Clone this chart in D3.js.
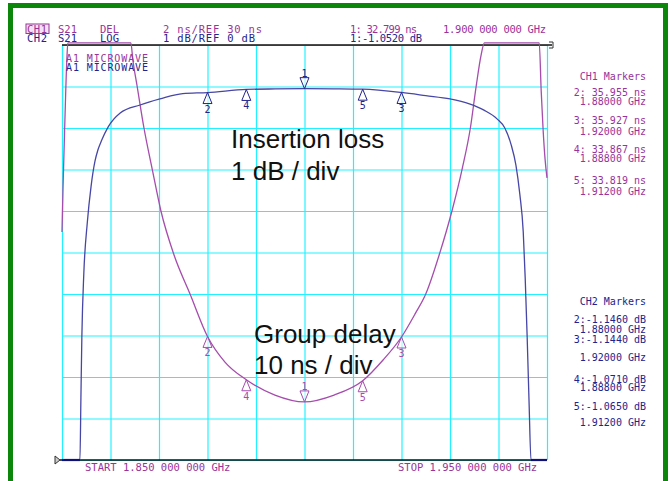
<!DOCTYPE html>
<html><head><meta charset="utf-8">
<script src="https://cdn.jsdelivr.net/npm/d3@7"></script>
<style>
html,body{margin:0;padding:0;background:#fff;}
svg{display:block;}
.px{font-family:"DejaVu Sans Mono",monospace;}
.big{font-family:"Liberation Sans",Arial,sans-serif;font-size:26px;fill:#111;}
</style></head>
<body>
<svg id="c" width="669" height="481"></svg>
<script>
// ---------- DATA ----------
// Insertion loss (CH2, S21 LOG), frequency in GHz, value in dB
const freqIL = [1.8500,1.8537,1.8539,1.8541,1.8545,1.8552,1.8560,1.8568,1.8574,1.8582,1.8595,1.8620,1.8661,1.8702,1.8749,1.8800,1.8880,1.8940,1.9000,1.9060,1.9120,1.9200,1.9250,1.9300,1.9340,1.9370,1.9397,1.9413,1.9426,1.9436,1.9444,1.9451,1.9455,1.9459,1.9463,1.9467,1.9500];
const lossDB = [-10,-10,-8.5,-7.0,-5.5,-4.3,-3.4,-2.8,-2.53,-2.29,-1.98,-1.64,-1.446,-1.30,-1.17,-1.146,-1.071,-1.058,-1.052,-1.056,-1.065,-1.144,-1.22,-1.30,-1.42,-1.57,-1.78,-2.0,-2.4,-2.9,-3.6,-4.5,-5.6,-7.0,-8.6,-10,-10];
// Group delay (CH1, S21 DEL), frequency in GHz, value in ns
const freqGD = [1.8500,1.8502,1.8506,1.8510,1.8512,1.8578,1.8642,1.8646,1.8655,1.8669,1.8686,1.8704,1.8731,1.8764,1.8800,1.8836,1.8880,1.8939,1.9000,1.9061,1.9120,1.9162,1.9200,1.9228,1.9250,1.9279,1.9304,1.9325,1.9342,1.9354,1.9364,1.9371,1.9440,1.9484,1.9488,1.9492,1.9496,1.9500];
const delayNS = [40.99,43.0,46.4,49.3,52,55,51,49.3,48.0,46.0,44.02,42.0,39.88,38.0,35.955,34.72,33.867,33.13,32.799,33.13,33.819,34.82,35.927,37.04,38.0,39.98,42.0,44.02,46.0,48.02,49.5,52,55,51,47.8,45.9,44.5,43.6];
// Markers
const markerNum  = [1,2,3,4,5];
const markerFreq = [1.900,1.880,1.920,1.888,1.912];
const markerIL   = [-1.0520,-1.1460,-1.1440,-1.0710,-1.0650];
const markerGD   = [32.799,35.955,35.927,33.867,33.819];
// Axis settings
const freqTicks = d3.range(0,11).map(i => 1.85 + i*0.01);
const ilTicks = d3.range(0,11).map(i => -i);
const header1 = ["CH1","S21","DEL","2 ns/REF 30 ns","1: 32.799 ns","1.900 000 000 GHz"];
const header2 = ["CH2","S21","LOG","1 dB/REF 0 dB","1:-1.0520 dB"];
const startLabel = "START 1.850 000 000 GHz";
const stopLabel = "STOP 1.950 000 000 GHz";

// ---------- DRAW ----------
const PURPLE = "#a54cad", PTEXT = "#993399", BLUE = "#4646a6", BTEXT = "#23238c", CYAN = "#22f2ff";
const svg = d3.select("#c");
const L = 62, R = 547, T = 45, B = 460;
const x = d3.scaleLinear().domain([1.85,1.95]).range([L,R]);
const yIL = d3.scaleLinear().domain([-10,0]).range([B,T]);
const yGD = d3.scaleLinear().domain([30,50]).range([B,T]);

// green frame
svg.append("path").attr("d","M10.5,481 L10.5,5.5 L665.5,5.5 L665.5,481")
  .attr("fill","none").attr("stroke","#0b860b").attr("stroke-width",5);

// grid via axes
const gx = svg.append("g").attr("transform",`translate(0,${B})`)
  .call(d3.axisBottom(x).tickValues(freqTicks).tickSize(-(B-T)).tickFormat(""));
const gy = svg.append("g").attr("transform",`translate(${L},0)`)
  .call(d3.axisLeft(yIL).tickValues(ilTicks).tickSize(-(R-L)).tickFormat(""));
[gx,gy].forEach(g=>{g.select(".domain").remove(); g.selectAll("line").attr("stroke",CYAN).attr("stroke-width",1.2);});
// top and bottom black lines
svg.append("line").attr("x1",L).attr("x2",R+5).attr("y1",T).attr("y2",T).attr("stroke","#111").attr("stroke-width",1.3);
svg.append("line").attr("x1",L-2).attr("x2",R).attr("y1",B).attr("y2",B).attr("stroke","#111").attr("stroke-width",1.3);
// reference pointers
svg.append("path").attr("d",`M${L-7},${B-4} L${L-2},${B} L${L-7},${B+4} Z`).attr("fill","#ccc").attr("stroke","#333").attr("stroke-width",1);
svg.append("path").attr("d",`M${R+2},${T-3} L${R+6},${T-3} L${R+6},${T+3} L${R+2},${T+3}`).attr("fill","none").attr("stroke","#333").attr("stroke-width",1);

// traces
const ilData = freqIL.map((f,i)=>({f, v:lossDB[i]}));
const gdData = freqGD.map((f,i)=>({f, v:delayNS[i]}));
const lineIL = d3.line().x(d=>x(d.f)).y(d=>yIL(Math.max(-10, d.v))).curve(d3.curveMonotoneX);
const lineGD = d3.line().x(d=>x(d.f)).y(d=>yGD(Math.min(50.1, d.v))).curve(d3.curveMonotoneX);
svg.append("path").attr("d",lineGD(gdData)).attr("fill","none").attr("stroke",PURPLE).attr("stroke-width",1.3);
svg.append("path").attr("d",lineIL(ilData)).attr("fill","none").attr("stroke",BLUE).attr("stroke-width",1.3);
// clipped floor of insertion loss, darker
const floorSegs = [[ilData[0],ilData[1]],[ilData[ilData.length-2],ilData[ilData.length-1]]];
floorSegs.forEach(s=>svg.append("path").attr("d",d3.line().x(d=>x(d.f)).y(d=>yIL(d.v))(s)).attr("stroke","#10107a").attr("stroke-width",2.2));

// markers
function drawMarkers(vals, yS, color){
  markerNum.forEach((n,i)=>{
    const mx = x(markerFreq[i]), my = yS(vals[i]);
    if(n===1){
      svg.append("path").attr("d",`M${mx},${my} L${mx-4.5},${my-11} L${mx+4.5},${my-11} Z`).attr("fill","#fff").attr("fill-opacity",0.6).attr("stroke",color).attr("stroke-width",1);
      svg.append("text").attr("class","px").attr("x",mx).attr("y",my-12).attr("text-anchor","middle").attr("font-size",10).attr("fill",color).text(n);
    } else {
      svg.append("path").attr("d",`M${mx},${my} L${mx-4.5},${my+11} L${mx+4.5},${my+11} Z`).attr("fill","#fff").attr("fill-opacity",0.6).attr("stroke",color).attr("stroke-width",1);
      svg.append("text").attr("class","px").attr("x",mx).attr("y",my+20).attr("text-anchor","middle").attr("font-size",10).attr("fill",color).text(n);
    }
  });
}
drawMarkers(markerIL, yIL, BTEXT);
drawMarkers(markerGD, yGD, PURPLE);

// header text
svg.append("rect").attr("x",26).attr("y",24).attr("width",23).attr("height",9.5).attr("fill","#f3e2f3").attr("stroke",PTEXT).attr("stroke-width",1);
const hx1 = [27,58,100,163,350,443];
const hw1 = [20,19,19,99,67,103];
const hx2 = [27,58,100,163,350];
const hw2 = [20,19,19,92,72];
header1.forEach((t,i)=>svg.append("text").attr("class","px").attr("x",hx1[i]).attr("y",32.5).attr("font-size",10.5).attr("textLength",hw1[i]).attr("lengthAdjust","spacing").attr("fill",PTEXT).text(t));
header2.forEach((t,i)=>svg.append("text").attr("class","px").attr("x",hx2[i]).attr("y",41.5).attr("font-size",10.5).attr("textLength",hw2[i]).attr("lengthAdjust","spacing").attr("fill",BTEXT).text(t));
svg.append("text").attr("class","px").attr("x",66).attr("y",62).attr("font-size",10).attr("textLength",82).attr("lengthAdjust","spacing").attr("fill",PTEXT).text("A1 MICROWAVE");
svg.append("text").attr("class","px").attr("x",66).attr("y",70.5).attr("font-size",10).attr("textLength",82).attr("lengthAdjust","spacing").attr("fill",BTEXT).text("A1 MICROWAVE");

// right marker panels
const fmtF = f => f.toFixed(5) + " GHz";
const FS = 10;
svg.append("text").attr("class","px").attr("x",646).attr("y",80).attr("text-anchor","end").attr("font-size",FS).attr("fill",PTEXT).text("CH1 Markers");
const ch1Y = [[96,105],[124,135],[153,162],[184,195]];
markerNum.slice(1).forEach((n,j)=>{
  const i = j+1;
  svg.append("text").attr("class","px").attr("x",646).attr("y",ch1Y[j][0]).attr("text-anchor","end").attr("font-size",FS).attr("fill",PTEXT).text(`${n}: ${markerGD[i].toFixed(3)} ns`);
  svg.append("text").attr("class","px").attr("x",646).attr("y",ch1Y[j][1]).attr("text-anchor","end").attr("font-size",FS).attr("fill",PTEXT).text(fmtF(markerFreq[i]));
});
svg.append("text").attr("class","px").attr("x",646).attr("y",305).attr("text-anchor","end").attr("font-size",FS).attr("fill",BTEXT).text("CH2 Markers");
const ch2Y = [[323,333],[343,361],[383,391],[410,426]];
markerNum.slice(1).forEach((n,j)=>{
  const i = j+1;
  svg.append("text").attr("class","px").attr("x",646).attr("y",ch2Y[j][0]).attr("text-anchor","end").attr("font-size",FS).attr("fill",BTEXT).text(`${n}:${markerIL[i].toFixed(4)} dB`);
  svg.append("text").attr("class","px").attr("x",646).attr("y",ch2Y[j][1]).attr("text-anchor","end").attr("font-size",FS).attr("fill",BTEXT).text(fmtF(markerFreq[i]));
});

// bottom labels
svg.append("text").attr("class","px").attr("x",85).attr("y",471).attr("font-size",10.5).attr("fill",PTEXT).text(startLabel);
svg.append("text").attr("class","px").attr("x",398).attr("y",471).attr("font-size",10.5).attr("fill",PTEXT).text(stopLabel);

// annotations
svg.append("text").attr("class","big").attr("x",231).attr("y",148).text("Insertion loss");
svg.append("text").attr("class","big").attr("x",231).attr("y",180).text("1 dB / div");
svg.append("text").attr("class","big").attr("x",254).attr("y",343).text("Group delay");
svg.append("text").attr("class","big").attr("x",254).attr("y",374).text("10 ns / div");
</script>
</body></html>
